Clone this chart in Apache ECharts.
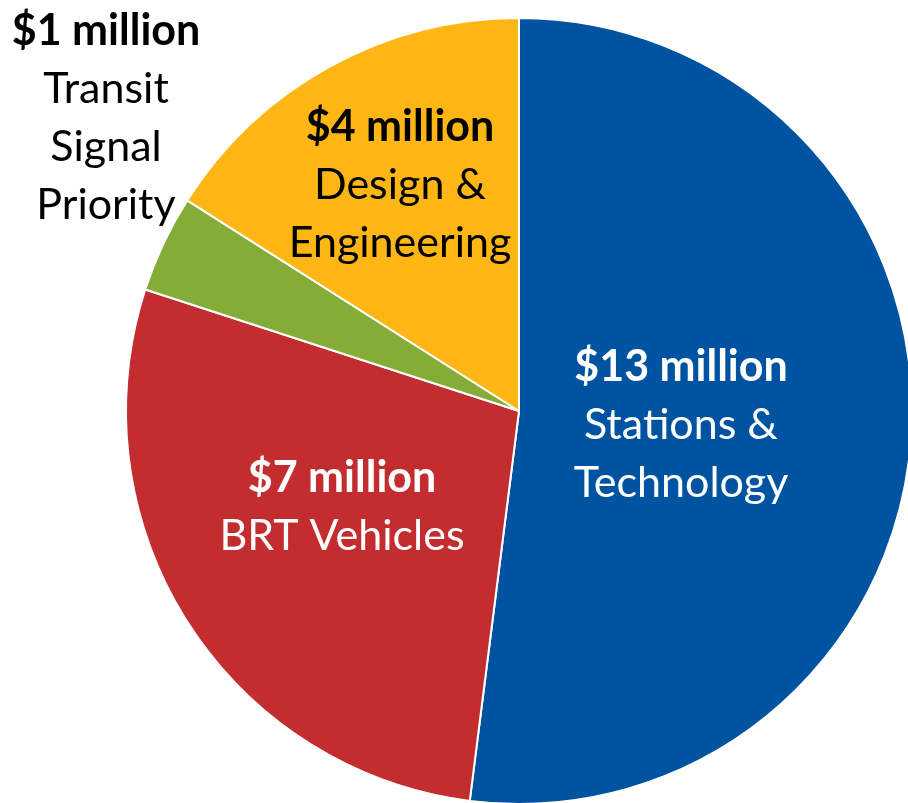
<!DOCTYPE html>
<html>
<head>
<meta charset="utf-8">
<script src="https://cdn.jsdelivr.net/npm/echarts@6/dist/echarts.min.js"></script>
<style>html,body{margin:0;padding:0;background:#fff;}#c{width:908px;height:803px;}</style>
</head>
<body>
<div id="c"></div>
<script>
const categories = ['Stations & Technology', 'BRT Vehicles', 'Transit Signal Priority', 'Design & Engineering'];
const amounts = ['$13 million', '$7 million', '$1 million', '$4 million'];
const labelLines = [['Stations &', 'Technology'], ['BRT Vehicles'], ['Transit', 'Signal', 'Priority'], ['Design &', 'Engineering']];
const values = [13, 7, 1, 4];
const colors = ['#0053A0', '#C42D2F', '#86AC38', '#FDB614'];
const textColors = ['#ffffff', '#ffffff', '#000000', '#000000'];
const labelPos = [[681, 425], [342, 507], [106, 118], [400, 185]];

const chart = echarts.init(document.getElementById('c'), null, {renderer: 'canvas'});
const data = categories.map((c, i) => ({
  name: c,
  value: values[i],
  itemStyle: {color: colors[i]},
  label: {
    color: textColors[i],
    formatter: '{b|' + amounts[i] + '}\n' + labelLines[i].map(t => '{n|' + t + '}').join('\n'),
    rich: {
      b: {fontFamily: 'Lato', fontWeight: 'bold', fontSize: 43, lineHeight: 58, color: textColors[i]},
      n: {fontFamily: 'Lato', fontSize: 43, lineHeight: 58, color: textColors[i]}
    }
  }
}));
chart.setOption({
  animation: false,
  series: [{
    type: 'pie',
    center: [519, 411],
    radius: [0, 393],
    startAngle: 90,
    clockwise: true,
    avoidLabelOverlap: false,
    itemStyle: {borderColor: '#ffffff', borderWidth: 2},
    label: {show: true, position: 'inside', align: 'center'},
    labelLine: {show: false},
    labelLayout: function (p) {
      const pos = labelPos[p.dataIndex];
      return {x: pos[0], y: pos[1], align: 'center', verticalAlign: 'middle'};
    },
    data: data
  }]
});
</script>
</body>
</html>
